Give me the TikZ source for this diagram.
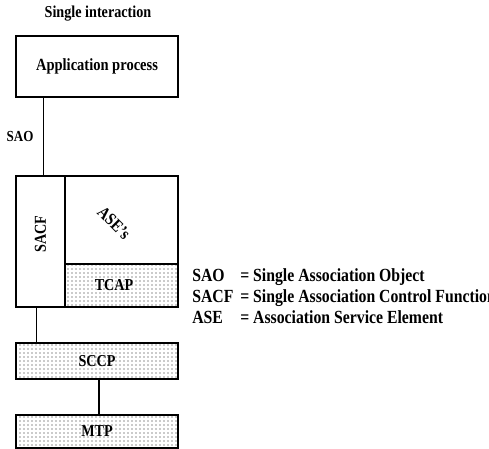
\documentclass[tikz,border=0pt]{standalone}
\usepackage{fontspec}
\setmainfont{Liberation Serif}[FakeStretch=0.85]
\usepackage{tikz}
\usetikzlibrary{positioning, calc, patterns}
\definecolor{notegray}{RGB}{30, 30, 30}

\tikzset{
  layer/.style={draw, line width=1pt, inner sep=0pt, font=\fontsize{12.5}{14}\selectfont\bfseries},
  dotlayer/.style={layer, pattern=dots, pattern color=notegray},
  lbl/.style={inner sep=0pt, font=\fontsize{12.5}{14}\selectfont\bfseries},
  legend/.style={lbl, anchor=base west, font=\fontsize{13.9}{16}\selectfont\bfseries}
}

\begin{document}
\begin{tikzpicture}[x=0.75pt, y=-0.75pt]
            \useasboundingbox (0,0) rectangle (489,449);
            \clip (0,0) rectangle (489,449);

            \node[lbl, font=\fontsize{12.5}{15}\selectfont\bfseries] (title) at (98,14) {Single interaction};
            \node[layer, minimum width=121.5pt, minimum height=45.75pt, font=\fontsize{12.8}{15}\selectfont\bfseries] (app) at (97,66.5) {Application process};

            % blocco SACF / ASE's / TCAP
            \node[layer, minimum width=36.75pt, minimum height=98.25pt] (sacf) at (40.5,241.5) {};
            \node[layer, minimum width=84.75pt, minimum height=66pt] (ases) at (121.5,220) {};
            \node[dotlayer, minimum width=84.75pt, minimum height=32.25pt] (tcap) at (121.5,285.5) {};
            \node[lbl, rotate=90] (sacflbl) at (40.5,234) {SACF};
            \node[lbl, rotate=-45, font=\fontsize{13}{15}\selectfont\bfseries] (aseslbl) at (114,223) {ASE's};
            \node[lbl] (tcaplbl) at ([xshift=-5.6pt]tcap.center) {TCAP};

            \node[dotlayer, minimum width=121.5pt, minimum height=27pt] (sccp) at (97,361) {SCCP};
            \node[dotlayer, minimum width=121.5pt, minimum height=24.75pt] (mtp) at (97,431.5) {MTP};

            \draw[line width=1pt] ([xshift=21pt]app.south west) -- ([xshift=21pt]sacf.north west);
            \node[lbl, font=\fontsize{11.5}{13}\selectfont\bfseries] (sao) at (20,136) {SAO};
            \draw[line width=1pt] ([xshift=15.75pt]sacf.south west) -- ([xshift=15.75pt]sccp.north west);
            \draw[line width=1pt] ([xshift=1.5pt]sccp.south) -- ([xshift=1.5pt]mtp.north);

            % legenda
            \node[legend] (saokey) at (192,281) {SAO};
            \node[legend] (saodef) at (240,281) {= Single Association Object};
            \node[legend] (sacfkey) at (192,302) {SACF};
            \node[legend] (sacfdef) at (240,302) {= Single Association Control Function};
            \node[legend] (asekey) at (192,323) {ASE};
            \node[legend] (asedef) at (240,323) {= Association Service Element};
\end{tikzpicture}
\end{document}
